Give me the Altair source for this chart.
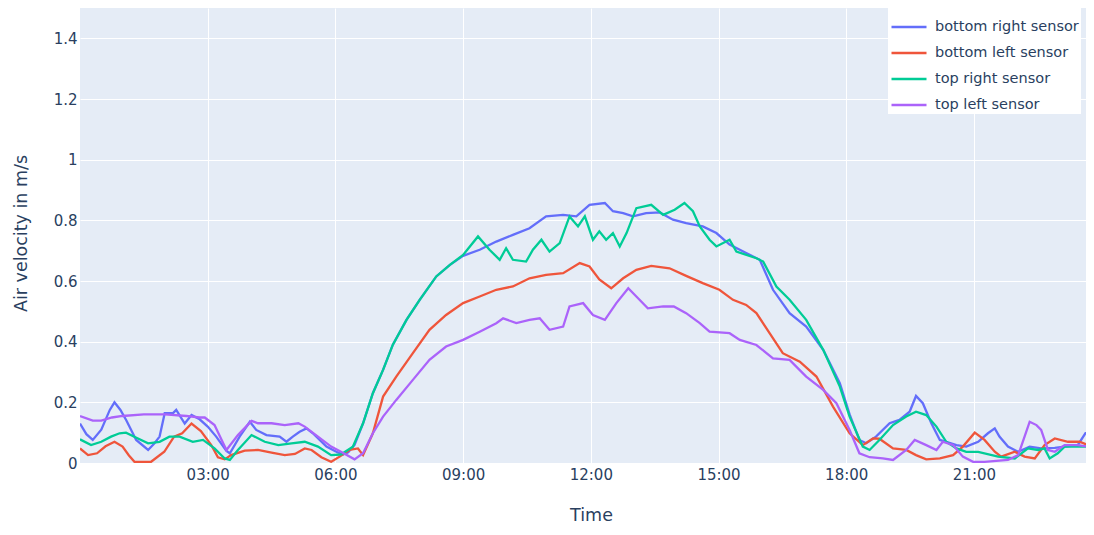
import altair as alt
import pandas as pd

# ---- data (hours after midnight, air velocity in m/s) ----
series_names = ["bottom right sensor", "bottom left sensor", "top right sensor", "top left sensor"]
series_colors = ["#636efa", "#EF553B", "#00cc96", "#ab63fa"]

br_hours = [0.00, 0.15, 0.30, 0.50, 0.70, 0.81, 0.95, 1.09, 1.32, 1.60, 1.75, 1.87, 1.99, 2.18, 2.26, 2.46,
            2.62, 2.81, 3.00, 3.20, 3.44, 3.52, 3.75, 3.99, 4.14, 4.38, 4.69, 4.85, 5.00, 5.16, 5.32, 5.47,
            5.79, 6.02, 6.18, 6.30, 6.45, 6.65, 6.88, 7.12, 7.35, 7.67, 7.98, 8.37, 8.69, 9.00, 9.39, 9.78,
            10.17, 10.56, 10.95, 11.35, 11.66, 11.97, 12.33, 12.52, 12.76, 12.99, 13.30, 13.62, 13.93, 14.24,
            14.63, 14.95, 15.26, 15.65, 15.97, 16.28, 16.67, 17.06, 17.46, 17.85, 18.08, 18.31, 18.47, 18.70,
            19.02, 19.25, 19.49, 19.64, 19.80, 20.00, 20.20, 20.35, 20.59, 20.82, 21.10, 21.33, 21.49, 21.60,
            21.80, 22.04, 22.31, 22.58, 22.90, 23.13, 23.44, 23.62, 23.81]
br_values = [0.130, 0.095, 0.076, 0.110, 0.175, 0.200, 0.175, 0.140, 0.076, 0.043, 0.065, 0.087, 0.164, 0.164, 0.175, 0.130,
             0.158, 0.144, 0.120, 0.087, 0.040, 0.032, 0.087, 0.136, 0.109, 0.092, 0.087, 0.070, 0.087, 0.103, 0.114, 0.098,
             0.054, 0.037, 0.028, 0.035, 0.060, 0.131, 0.230, 0.307, 0.390, 0.472, 0.538, 0.615, 0.653, 0.683, 0.703, 0.730,
             0.752, 0.774, 0.813, 0.818, 0.813, 0.851, 0.857, 0.830, 0.824, 0.813, 0.824, 0.826, 0.802, 0.791,
             0.780, 0.758, 0.720, 0.692, 0.670, 0.571, 0.494, 0.450, 0.373, 0.263, 0.160, 0.076, 0.065, 0.087,
             0.131, 0.142, 0.169, 0.221, 0.197, 0.131, 0.076, 0.070, 0.059, 0.054, 0.070, 0.098, 0.114, 0.087,
             0.054, 0.037, 0.054, 0.048, 0.050, 0.054, 0.059, 0.098, 0.109]

bl_hours = [0.00, 0.19, 0.40, 0.60, 0.81, 1.00, 1.15, 1.28, 1.67, 1.98, 2.21, 2.40, 2.62, 2.84, 3.08, 3.24,
            3.40, 3.55, 3.87, 4.18, 4.50, 4.81, 5.05, 5.28, 5.44, 5.67, 5.90, 6.10, 6.33, 6.53, 6.65, 6.88,
            7.12, 7.43, 7.82, 8.21, 8.60, 9.00, 9.39, 9.78, 10.17, 10.56, 10.95, 11.35, 11.74, 11.97, 12.20,
            12.48, 12.76, 13.07, 13.42, 13.85, 14.24, 14.63, 15.02, 15.34, 15.65, 15.89, 16.20, 16.51, 16.91,
            17.30, 17.69, 18.08, 18.39, 18.63, 18.78, 19.10, 19.41, 19.64, 19.88, 20.20, 20.51, 20.74, 21.02,
            21.25, 21.49, 21.64, 21.96, 22.19, 22.43, 22.66, 22.90, 23.21, 23.48, 23.68, 23.81]
bl_values = [0.048, 0.026, 0.032, 0.055, 0.070, 0.054, 0.025, 0.004, 0.004, 0.037, 0.087, 0.098, 0.130, 0.105, 0.060, 0.019,
             0.012, 0.026, 0.041, 0.043, 0.034, 0.026, 0.030, 0.048, 0.043, 0.019, 0.004, 0.021, 0.043, 0.048, 0.026, 0.098,
             0.219, 0.285, 0.362, 0.439, 0.488, 0.527, 0.549, 0.571, 0.582, 0.609, 0.620, 0.626, 0.659, 0.648, 0.605,
             0.576, 0.609, 0.637, 0.650, 0.642, 0.617, 0.593, 0.571, 0.538, 0.521, 0.494, 0.428, 0.362, 0.334,
             0.285, 0.186, 0.098, 0.059, 0.081, 0.080, 0.048, 0.043, 0.026, 0.012, 0.015, 0.026, 0.054, 0.100,
             0.076, 0.037, 0.021, 0.037, 0.021, 0.015, 0.059, 0.081, 0.070, 0.070, 0.059, 0.048]

tr_hours = [0.00, 0.26, 0.50, 0.73, 0.93, 1.08, 1.30, 1.60, 1.87, 2.10, 2.34, 2.65, 2.89, 3.16, 3.40, 3.52,
            3.71, 4.03, 4.34, 4.66, 4.97, 5.28, 5.59, 5.90, 6.13, 6.41, 6.65, 6.88, 7.12, 7.35, 7.67, 7.98,
            8.37, 8.69, 9.00, 9.35, 9.62, 9.86, 10.01, 10.17, 10.48, 10.64, 10.84, 11.03, 11.27, 11.50, 11.70,
            11.86, 12.05, 12.20, 12.36, 12.52, 12.68, 12.84, 13.07, 13.42, 13.70, 13.97, 14.20, 14.40, 14.56,
            14.79, 14.95, 15.26, 15.42, 15.89, 16.05, 16.36, 16.67, 17.06, 17.46, 17.85, 18.08, 18.39, 18.55,
            18.78, 19.10, 19.41, 19.64, 19.88, 20.12, 20.35, 20.59, 20.82, 21.10, 21.57, 21.96, 22.27, 22.51,
            22.66, 22.78, 22.97, 23.13, 23.44, 23.81]
tr_values = [0.078, 0.059, 0.070, 0.087, 0.098, 0.100, 0.085, 0.065, 0.070, 0.087, 0.087, 0.070, 0.076, 0.048, 0.015, 0.010,
             0.043, 0.092, 0.070, 0.059, 0.065, 0.070, 0.054, 0.026, 0.028, 0.054, 0.131, 0.230, 0.307, 0.390, 0.472, 0.538,
             0.615, 0.653, 0.686, 0.747, 0.703, 0.670, 0.708, 0.670, 0.664, 0.703, 0.736, 0.697, 0.725, 0.813, 0.780,
             0.813, 0.736, 0.764, 0.736, 0.758, 0.714, 0.758, 0.840, 0.851, 0.818, 0.835, 0.857, 0.830, 0.780,
             0.736, 0.714, 0.736, 0.697, 0.675, 0.664, 0.582, 0.538, 0.472, 0.373, 0.252, 0.153, 0.054, 0.043,
             0.076, 0.125, 0.153, 0.169, 0.158, 0.120, 0.070, 0.048, 0.037, 0.037, 0.021, 0.015, 0.048, 0.043,
             0.048, 0.015, 0.032, 0.054, 0.054, 0.054]

tl_hours = [0.00, 0.30, 0.50, 0.75, 1.00, 1.50, 2.00, 2.50, 2.80, 2.93, 3.16, 3.44, 3.71, 4.03, 4.18, 4.50,
            4.81, 5.13, 5.28, 5.59, 5.90, 6.13, 6.45, 6.65, 6.88, 7.12, 7.43, 7.82, 8.21, 8.60, 9.00, 9.39,
            9.78, 9.94, 10.25, 10.56, 10.80, 11.03, 11.35, 11.50, 11.82, 12.05, 12.33, 12.60, 12.88, 13.07,
            13.34, 13.70, 13.95, 14.24, 14.56, 14.79, 15.26, 15.50, 15.89, 16.28, 16.67, 17.06, 17.46, 17.77,
            18.08, 18.31, 18.55, 18.86, 19.10, 19.41, 19.61, 19.88, 20.12, 20.27, 20.51, 20.74, 20.98, 21.25,
            21.80, 22.04, 22.19, 22.31, 22.47, 22.58, 22.74, 22.90, 23.13, 23.44, 23.68, 23.81]
tl_values = [0.155, 0.140, 0.140, 0.150, 0.155, 0.160, 0.160, 0.155, 0.150, 0.150, 0.125, 0.043, 0.092, 0.139, 0.131, 0.131,
             0.125, 0.131, 0.120, 0.087, 0.054, 0.037, 0.012, 0.032, 0.098, 0.153, 0.208, 0.274, 0.340, 0.384, 0.406, 0.433,
             0.461, 0.477, 0.461, 0.472, 0.477, 0.439, 0.450, 0.516, 0.527, 0.488, 0.472, 0.527, 0.576, 0.549,
             0.510, 0.516, 0.516, 0.494, 0.461, 0.433, 0.428, 0.406, 0.389, 0.345, 0.340, 0.285, 0.241, 0.197,
             0.109, 0.032, 0.019, 0.015, 0.010, 0.043, 0.076, 0.059, 0.043, 0.070, 0.059, 0.021, 0.004, 0.004,
             0.010, 0.026, 0.087, 0.136, 0.125, 0.109, 0.043, 0.037, 0.059, 0.059, 0.054, 0.070]

y_ticks = [0, 0.2, 0.4, 0.6, 0.8, 1.0, 1.2, 1.4]
x_tick_hours = [3, 6, 9, 12, 15, 18, 21]

# ---- build table ----
base = pd.Timestamp("2021-01-01 00:00:00")
frames = []
for name, hrs, vals in zip(series_names,
                           [br_hours, bl_hours, tr_hours, tl_hours],
                           [br_values, bl_values, tr_values, tl_values]):
    t = [(base + pd.to_timedelta(h, unit="h")).strftime("%Y-%m-%dT%H:%M:%S") for h in hrs]
    frames.append(pd.DataFrame({"time": t, "velocity": vals, "sensor": name}))
df = pd.concat(frames, ignore_index=True)

FONT = "DejaVu Sans"
TXT = "#2a3f5f"

x_domain = [alt.DateTime(year=2021, month=1, date=1, hours=0, minutes=0),
            alt.DateTime(year=2021, month=1, date=1, hours=23, minutes=38)]
x_values = [alt.DateTime(year=2021, month=1, date=1, hours=h) for h in x_tick_hours]

chart = alt.Chart(df).mark_line(strokeWidth=2.3, clip=True).encode(
    x=alt.X("time:T",
            scale=alt.Scale(domain=x_domain),
            axis=alt.Axis(values=x_values, format="%H:%M", title="Time",
                          labelFont=FONT, labelFontSize=15, labelColor=TXT, labelPadding=4,
                          labelFlush=False,
                          titleFont=FONT, titleFontSize=17.5, titleFontWeight="normal", titleColor=TXT,
                          titleX=511, titleY=57, titleBaseline="alphabetic",
                          tickSize=0, domain=False, gridColor="white", gridWidth=1)),
    y=alt.Y("velocity:Q",
            scale=alt.Scale(domain=[0, 1.5], nice=False),
            axis=alt.Axis(values=y_ticks, format="~g", title="Air velocity in m/s",
                          labelFont=FONT, labelFontSize=15, labelColor=TXT, labelPadding=3,
                          labelFlush=False,
                          titleFont=FONT, titleFontSize=17.5, titleFontWeight="normal", titleColor=TXT,
                          titleX=-59, titleY=225, titleBaseline="middle", titleAngle=270,
                          tickSize=0, domain=False, gridColor="white", gridWidth=1)),
    color=alt.Color("sensor:N",
                    scale=alt.Scale(domain=series_names, range=series_colors),
                    sort=series_names,
                    legend=alt.Legend(title=None, orient="none", legendX=808, legendY=-2,
                                      padding=2, fillColor="white",
                                      symbolType="stroke", symbolSize=1225, symbolStrokeWidth=2.5,
                                      labelFont=FONT, labelFontSize=14.5, labelColor=TXT,
                                      labelOffset=7, rowPadding=-13, labelLimit=200)),
).properties(
    width=1006, height=455,
    autosize=alt.AutoSizeParams(type="none"),
    padding={"left": 72, "top": 0, "right": 0, "bottom": 60},
).configure_view(
    fill="#E5ECF6", strokeWidth=0
)

chart.save("out.html", embed_options={"renderer": "svg", "actions": False})
